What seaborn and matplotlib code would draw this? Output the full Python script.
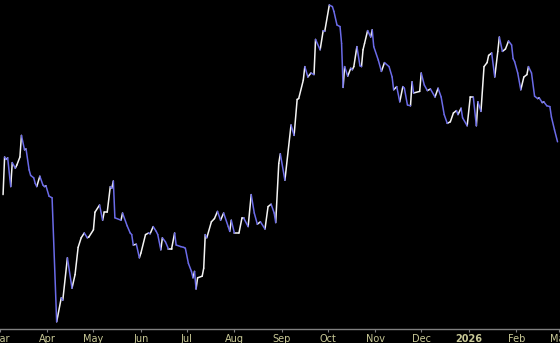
import matplotlib
matplotlib.use("Agg")
import matplotlib.pyplot as plt
import seaborn as sns
import pandas as pd
import numpy as np

# ---- data ----
start_date = "2025-03-01"
day_offset = [
    2, 3, 4, 5, 7, 8, 10, 11, 13, 14,
    16, 17, 19, 20, 22, 23, 24, 26, 28, 29,
    30, 32, 34, 37, 40, 41, 44, 47, 49, 51,
    53, 55, 57, 58, 61, 62, 65, 67, 68, 70,
    72, 73, 74, 75, 79, 80, 83, 85, 86, 87,
    89, 91, 92, 95, 97, 98, 100, 102, 103, 105,
    106, 108, 110, 112, 114, 115, 118, 120, 121, 123,
    125, 126, 127, 128, 129, 132, 133, 134, 135, 138,
    140, 142, 144, 146, 149, 150, 151, 153, 156, 158,
    159, 162, 164, 166, 168, 170, 173, 175, 177, 179,
    180, 182, 183, 186, 190, 192, 194, 195, 198, 199,
    201, 203, 205, 206, 209, 211, 212, 215, 217, 218,
    220, 222, 223, 224, 225, 227, 229, 230, 231, 233,
    235, 236, 237, 238, 240, 242, 243, 244, 247, 249,
    251, 254, 256, 257, 259, 261, 263, 264, 266, 268,
    269, 270, 274, 275, 277, 279, 281, 284, 286, 288,
    290, 292, 294, 296, 298, 299, 301, 302, 305, 307,
    309, 311, 312, 314, 316, 318, 319, 321, 323, 325,
    326, 328, 330, 332, 334, 335, 336, 338, 340, 342,
    344, 345, 347, 349, 351, 352, 354, 355, 357, 359,
    360, 362, 364,
]
price = [
    56.8, 61.5, 61.2, 61.4, 57.8, 60.8, 60.1, 60.5, 61.5, 64.2,
    62.4, 62.5, 59.9, 59.2, 58.9, 58.2, 57.8, 59.1, 58.0, 57.8,
    57.9, 56.6, 56.4, 40.9, 43.9, 43.6, 48.9, 45.1, 46.8, 50.2,
    51.4, 52.0, 51.4, 51.5, 52.4, 54.6, 55.5, 53.6, 54.6, 54.6,
    57.8, 57.6, 58.5, 53.9, 53.6, 54.5, 52.9, 52.0, 51.8, 50.5,
    50.6, 48.9, 49.5, 51.8, 52.0, 51.9, 52.8, 52.2, 51.8, 49.9,
    51.4, 50.9, 50.0, 50.0, 52.0, 50.5, 50.3, 50.2, 50.1, 48.2,
    47.2, 46.4, 47.2, 45.0, 46.4, 46.6, 47.6, 51.8, 51.4, 53.4,
    53.8, 54.7, 53.6, 54.5, 52.8, 52.2, 53.6, 52.0, 52.0, 53.9,
    53.9, 52.8, 56.8, 54.5, 53.1, 53.4, 52.5, 55.3, 55.6, 54.5,
    53.3, 60.7, 61.9, 58.6, 65.5, 64.2, 68.7, 68.8, 71.1, 72.8,
    71.5, 72.0, 71.8, 76.2, 74.9, 77.3, 77.2, 80.5, 80.3, 79.7,
    78.0, 77.8, 75.7, 70.2, 72.8, 71.6, 72.6, 72.4, 72.8, 75.3,
    72.9, 72.8, 74.9, 75.7, 77.3, 76.5, 77.4, 75.3, 73.6, 72.2,
    73.3, 72.8, 71.5, 69.9, 70.3, 68.4, 70.3, 70.1, 68.0, 67.9,
    70.9, 69.5, 69.7, 72.0, 70.5, 69.8, 70.0, 69.0, 70.1, 69.0,
    66.8, 65.7, 65.9, 67.0, 67.3, 66.8, 67.6, 66.4, 65.4, 69.0,
    69.0, 65.4, 68.4, 67.2, 72.8, 73.3, 74.2, 74.5, 71.5, 74.7,
    76.5, 74.7, 75.0, 76.0, 75.5, 73.8, 73.4, 72.0, 69.9, 71.5,
    71.8, 72.8, 72.0, 69.1, 68.8, 68.9, 68.3, 68.4, 67.9, 67.8,
    66.5, 64.9, 63.4,
]
tick_dates = ["2025-03-01", "2025-04-01", "2025-05-01", "2025-06-01", "2025-07-01",
              "2025-08-01", "2025-09-01", "2025-10-01", "2025-11-01", "2025-12-01",
              "2026-01-01", "2026-02-01", "2026-03-01"]
tick_labels = ["Mar", "Apr", "May", "Jun", "Jul", "Aug", "Sep", "Oct", "Nov", "Dec",
               "2026", "Feb", "Mar"]

# ---- build segments coloured by direction ----
dates = pd.Timestamp(start_date) + pd.to_timedelta(day_offset, unit="D")
rows = []
for i in range(len(price) - 1):
    d = "up" if price[i + 1] >= price[i] else "down"
    rows.append({"date": dates[i], "value": price[i], "seg": i, "dir": d})
    rows.append({"date": dates[i + 1], "value": price[i + 1], "seg": i, "dir": d})
df = pd.DataFrame(rows)

sns.set_style("dark")
fig = plt.figure(figsize=(5.6, 3.43), dpi=100, facecolor="black")
ax = fig.add_axes([0, 14 / 343, 1, 329 / 343])
ax.set_facecolor("black")

sns.lineplot(data=df, x="date", y="value", hue="dir", units="seg", estimator=None,
             palette={"up": "#f4f4f4", "down": "#6b6be8"}, legend=False,
             linewidth=1.1, ax=ax)

x0 = pd.Timestamp(start_date) + pd.Timedelta(days=1.75)
x1 = pd.Timestamp(start_date) + pd.Timedelta(days=365.6)
ax.set_xlim(x0, x1)
ax.set_ylim(40, 81.125)

ax.set_xticks(pd.to_datetime(tick_dates))
ax.set_xticklabels(tick_labels)
for lbl in ax.get_xticklabels():
    lbl.set_color("#c8c896")
    lbl.set_fontsize(7)
    if lbl.get_text() == "2026":
        lbl.set_fontweight("bold")
ax.tick_params(axis="x", length=2.2, width=0.8, color="#808080", pad=1.2,
               direction="out", bottom=True)
ax.set_yticks([])
ax.set_xlabel("")
ax.set_ylabel("")
ax.grid(False)
for s in ["left", "right", "top"]:
    ax.spines[s].set_visible(False)
ax.spines["bottom"].set_visible(True)
ax.spines["bottom"].set_color("#808080")
ax.spines["bottom"].set_linewidth(1.0)

fig.savefig("out.png", dpi=100, facecolor="black")
